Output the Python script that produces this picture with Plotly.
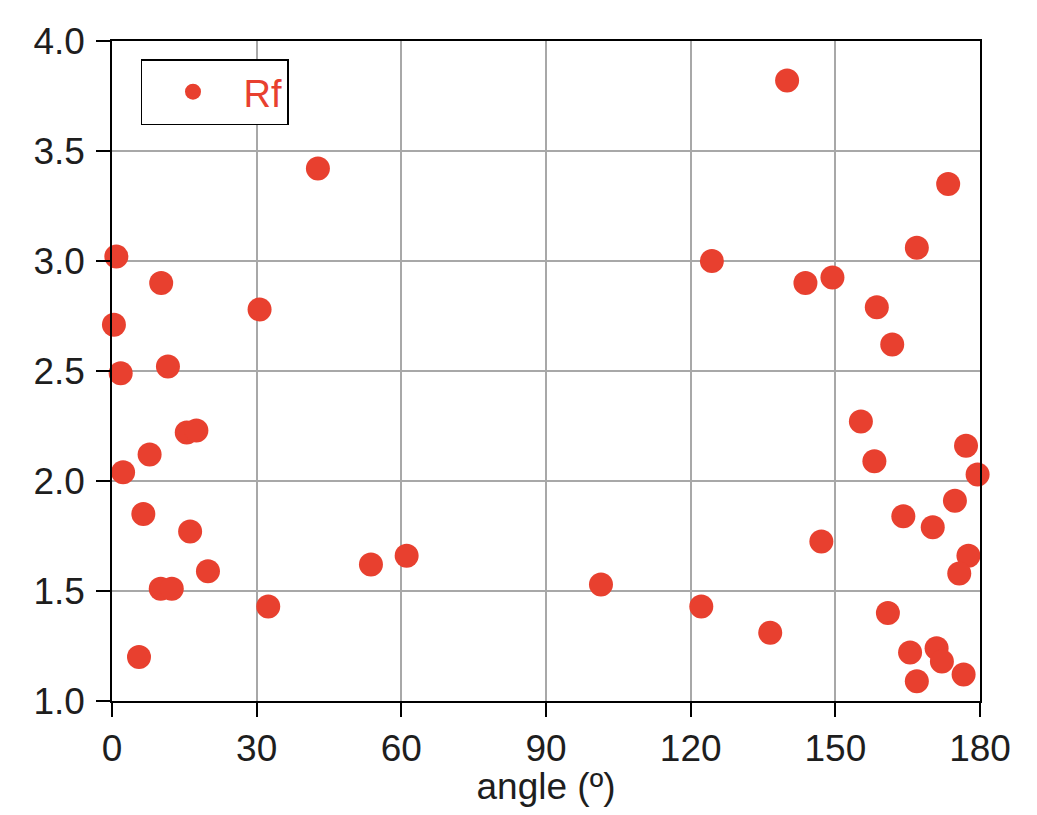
import plotly.graph_objects as go

angle = [0.9, 0.4, 1.8, 2.3, 6.5, 5.6, 10.2, 11.6, 7.8, 15.5, 17.5, 16.2, 10.1, 12.4, 19.9,
         30.6, 32.4, 42.7, 53.7, 61.1, 101.4, 122.2, 124.4, 136.5, 140.0, 143.8, 149.4,
         147.1, 155.3, 158.6, 158.1, 161.8, 160.9, 164.1, 166.9, 165.5, 166.9, 170.2,
         171.0, 172.1, 173.4, 174.8, 177.1, 179.5, 177.6, 175.7, 176.6]
rf = [3.02, 2.71, 2.49, 2.04, 1.85, 1.20, 2.90, 2.52, 2.12, 2.22, 2.23, 1.77, 1.51, 1.51, 1.59,
      2.78, 1.43, 3.42, 1.62, 1.66, 1.53, 1.43, 3.00, 1.31, 3.82, 2.90, 2.925,
      1.725, 2.27, 2.79, 2.09, 2.62, 1.40, 1.84, 3.06, 1.22, 1.09, 1.79,
      1.24, 1.18, 3.35, 1.91, 2.16, 2.03, 1.66, 1.58, 1.12]

x_ticks = [0, 30, 60, 90, 120, 150, 180]
y_ticks = [1.0, 1.5, 2.0, 2.5, 3.0, 3.5, 4.0]

RED = "#E8402F"
TXT = "#1e1e1e"
FONT = "Liberation Sans Narrow, Arial Narrow, Liberation Sans, sans-serif"

fig = go.Figure()
fig.add_trace(go.Scatter(
    x=angle, y=rf, mode="markers", name="Rf",
    marker=dict(size=24, color=RED, line=dict(width=0)),
    cliponaxis=False,
))

axis_common = dict(
    showline=True, linecolor="black", linewidth=1.5, mirror=True,
    showgrid=True, gridcolor="#a8a8a8", gridwidth=1.5,
    ticks="outside", ticklen=14, tickwidth=1.5, tickcolor="black",
    zeroline=False, automargin=False,
    tickfont=dict(family=FONT, size=37, color=TXT),
)

fig.update_xaxes(range=[0, 180], tickvals=x_ticks, ticktext=[str(v) for v in x_ticks],
                 title=dict(text="angle (º)", font=dict(family=FONT, size=37, color=TXT), standoff=8),
                 **axis_common)
fig.update_yaxes(range=[1, 4], tickvals=y_ticks, ticktext=[f"{v:.1f}" for v in y_ticks],
                 ticklabelstandoff=4,
                 **axis_common)

fig.update_layout(
    width=1021, height=799,
    margin=dict(l=104, r=49, t=33, b=106),
    paper_bgcolor="white", plot_bgcolor="white",
    showlegend=True,
    legend=dict(x=0.0334, y=0.9727, xanchor="left", yanchor="top",
                bgcolor="white", bordercolor="black", borderwidth=1.5,
                font=dict(family=FONT, size=38, color=RED),
                itemwidth=91),
)

fig.write_html("out.html")
